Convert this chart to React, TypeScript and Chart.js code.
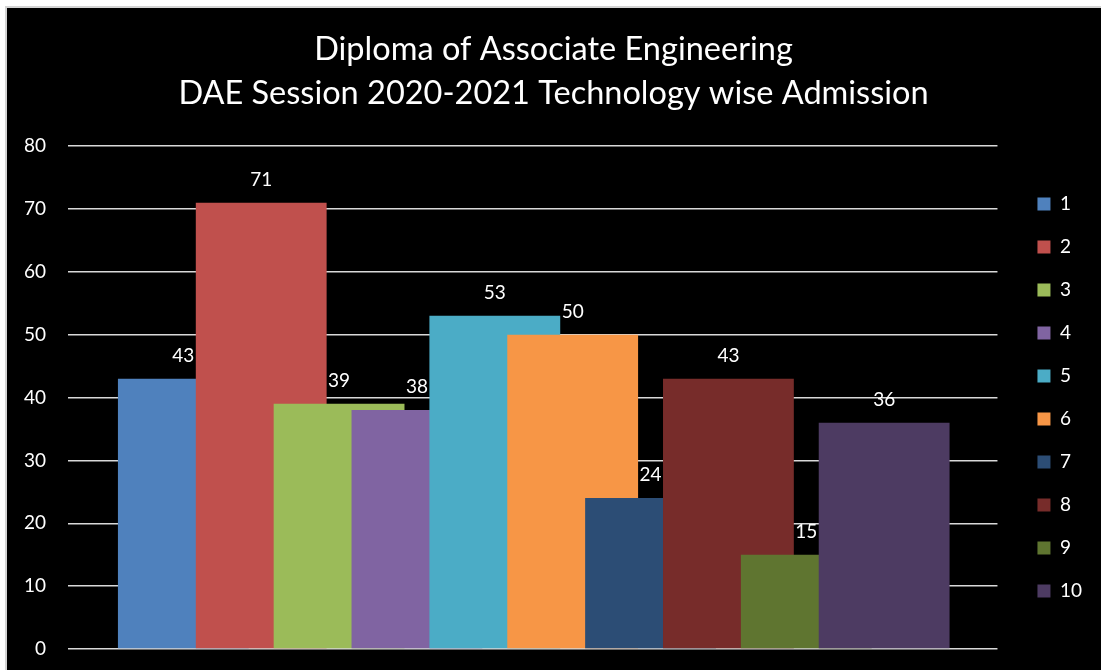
import React, { useEffect, useRef } from 'react';
import { Chart, registerables } from 'chart.js';

Chart.register(...registerables);

// ---- data ----
const titleLines = ['Diploma of Associate Engineering', 'DAE Session 2020-2021 Technology wise Admission'];
const categories = ['1', '2', '3', '4', '5', '6', '7', '8', '9', '10'];
const admissions = [43, 71, 39, 38, 53, 50, 24, 43, 15, 36];
const yMin = 0;
const yMax = 80;
const yStep = 10;

// ---- style ----
const colors = ['#4F81BD', '#C0504D', '#9BBB59', '#8064A2', '#4BACC6', '#F79646', '#2C4D75', '#772C2A', '#5F7530', '#4D3B62'];
const FONT = 'Lato, "Open Sans", sans-serif';

const dataLabels = {
  id: 'dataLabels',
  afterDatasetsDraw(chart: any) {
    const ctx = chart.ctx;
    ctx.save();
    ctx.font = `19px ${FONT}`;
    ctx.fillStyle = '#ffffff';
    ctx.textAlign = 'center';
    ctx.textBaseline = 'middle';
    chart.data.datasets.forEach((ds: any, i: number) => {
      const meta = chart.getDatasetMeta(i);
      meta.data.forEach((el: any, j: number) => {
        const v = ds.data[j].y;
        ctx.fillText(String(v), el.x, el.y - 23);
      });
    });
    ctx.restore();
  },
};

export default function App() {
  const canvasRef = useRef<HTMLCanvasElement | null>(null);

  useEffect(() => {
    if (!canvasRef.current) return;
    const n = categories.length;
    const chart = new Chart(canvasRef.current, {
      type: 'bar',
      data: {
        datasets: categories.map((c, i) => ({
          label: c,
          data: [{ x: i + 1, y: admissions[i] }],
          backgroundColor: colors[i],
          borderWidth: 0,
          order: n - i,
          grouped: false,
          barPercentage: 1.68,
          categoryPercentage: 1,
        })),
      },
      options: {
        animation: false,
        responsive: true,
        maintainAspectRatio: false,
        layout: { padding: { left: 15, right: 9, top: 0, bottom: 21 } },
        plugins: {
          title: {
            display: true,
            text: titleLines,
            color: '#ffffff',
            font: { family: FONT, size: 32.5, weight: 'normal', lineHeight: 1.37 },
            padding: { top: 27, bottom: 30 },
          },
          legend: {
            position: 'right',
            fullSize: false,
            labels: {
              color: '#ffffff',
              font: { family: FONT, size: 19 },
              boxWidth: 13,
              boxHeight: 13,
              padding: 24,
              sort: (a: any, b: any) => a.datasetIndex - b.datasetIndex,
            },
          },
          tooltip: { enabled: false },
        },
        scales: {
          x: {
            type: 'linear',
            display: false,
            offset: false,
            min: 1 - 1.4808,
            max: 1 - 1.4808 + 11.936,
            afterBuildTicks: (scale: any) => {
              scale.ticks = categories.map((_, i) => ({ value: i + 1 }));
            },
          },
          y: {
            min: yMin,
            max: yMax,
            ticks: {
              stepSize: yStep,
              color: '#ffffff',
              font: { family: FONT, size: 19 },
              padding: 9,
            },
            grid: { color: '#d9d9d9', lineWidth: 1.5, drawTicks: true, tickLength: 13, tickColor: 'rgba(0,0,0,0)' },
            border: { display: false },
          },
          yPad: {
            type: 'linear',
            position: 'right',
            display: true,
            ticks: { display: false },
            grid: { display: false },
            border: { display: false },
            afterFit: (scale: any) => {
              scale.width = 16;
            },
          },
        },
      } as any,
      plugins: [dataLabels],
    });
    return () => chart.destroy();
  }, []);

  return (
    <div style={{ position: 'fixed', left: 0, top: 0, width: '100vw', height: '100vh', overflow: 'hidden', background: '#ffffff' }}>
      <div
        style={{
          position: 'absolute',
          left: 5,
          top: 6,
          right: -20,
          bottom: -20,
          background: '#000000',
          border: '2px solid #d4d4d4',
        }}
      />
      <div style={{ position: 'absolute', left: 0, top: 0, width: 1101, height: 670 }}>
        <canvas ref={canvasRef} />
      </div>
    </div>
  );
}
